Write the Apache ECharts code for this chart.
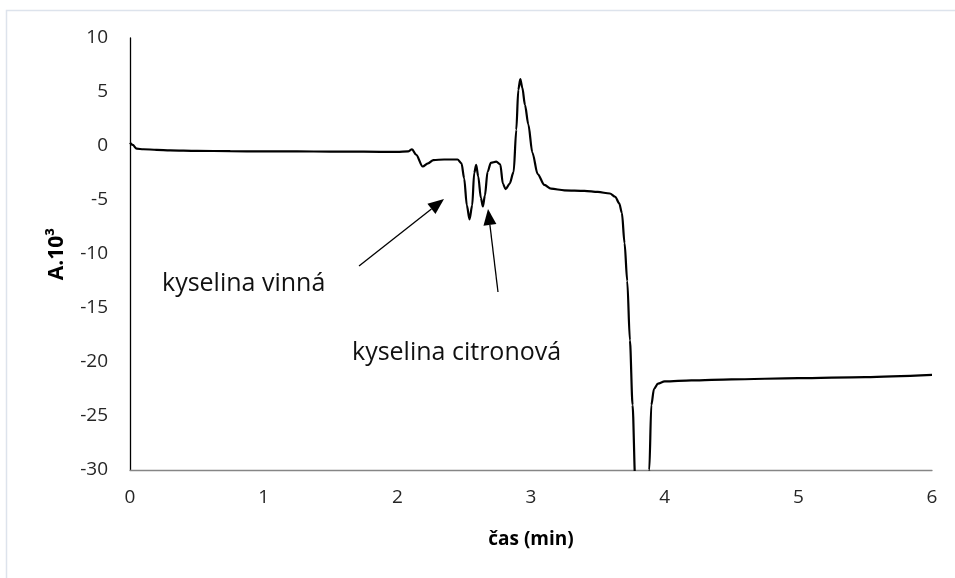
<!DOCTYPE html>
<html>
<head>
<meta charset="utf-8">
<script src="https://cdn.jsdelivr.net/npm/echarts@6/dist/echarts.min.js"></script>
<style>
  html, body { margin: 0; padding: 0; background: #fff; }
  #chart { width: 955px; height: 578px; }
</style>
</head>
<body>
<div id="chart"></div>
<script>
// time (min) and absorbance (A.10^3)
const times = [
  0, 0.02, 0.05, 0.1, 0.2, 0.3, 0.5, 0.75, 1.0, 1.25, 1.5, 1.75, 2.0,
  2.08, 2.11, 2.14, 2.19, 2.23, 2.27, 2.35, 2.45, 2.48, 2.5, 2.52, 2.54,
  2.56, 2.575, 2.59, 2.605, 2.625, 2.64, 2.655, 2.675, 2.7, 2.74, 2.77,
  2.79, 2.81, 2.84, 2.87, 2.89, 2.905, 2.92, 2.935, 2.955, 2.98, 3.01,
  3.05, 3.1, 3.15, 3.25, 3.4, 3.5, 3.59, 3.63, 3.66, 3.68, 3.7, 3.72,
  3.74, 3.76, 3.78, 3.8, 3.87, 3.885, 3.9, 3.92, 3.95, 4.0, 4.2, 4.5,
  5.0, 5.5, 6.0
];
const signal = [
  0.3, 0.1, -0.25, -0.3, -0.35, -0.4, -0.45, -0.48, -0.5, -0.5, -0.52, -0.52, -0.55,
  -0.5, -0.3, -0.8, -1.9, -1.6, -1.3, -1.25, -1.25, -1.6, -3.0, -5.5, -6.8,
  -5.5, -2.5, -1.75, -2.8, -4.8, -5.6, -4.6, -2.4, -1.55, -1.45, -1.7,
  -3.5, -4.0, -3.5, -2.4, 1.5, 5.2, 6.2, 5.4, 3.8, 2.0, -0.6,
  -2.6, -3.6, -3.95, -4.1, -4.15, -4.25, -4.4, -4.7, -5.3, -6.2, -9.0, -12.5,
  -18, -24, -31, -40, -40, -30, -24, -22.5, -22, -21.8, -21.7, -21.6,
  -21.5, -21.4, -21.2
];
const xTicks = [0, 1, 2, 3, 4, 5, 6];
const yTicks = [-30, -25, -20, -15, -10, -5, 0, 5, 10];

const points = times.map((t, i) => [t, signal[i]]);

function arrow(x1, y1, x2, y2) {
  const dx = x2 - x1, dy = y2 - y1;
  const len = Math.sqrt(dx * dx + dy * dy);
  const ux = dx / len, uy = dy / len;
  const hl = 16, hw = 6.5;
  const bx = x2 - ux * hl, by = y2 - uy * hl;
  return [
    { type: 'line', shape: { x1: x1, y1: y1, x2: bx, y2: by },
      style: { stroke: '#000', lineWidth: 1.3 } },
    { type: 'polygon',
      shape: { points: [[x2, y2], [bx - uy * hw, by + ux * hw], [bx + uy * hw, by - ux * hw]] },
      style: { fill: '#000' } }
  ];
}

const chart = echarts.init(document.getElementById('chart'), null, { renderer: 'canvas' });

const option = {
  animation: false,
  grid: { left: 130, right: 23, top: 38, bottom: 108 },
  xAxis: {
    type: 'value',
    min: xTicks[0],
    max: xTicks[xTicks.length - 1],
    interval: 1,
    name: 'čas (min)',
    nameLocation: 'middle',
    nameGap: 60,
    nameTextStyle: { fontFamily: 'Open Sans', fontSize: 19, fontWeight: 'bold', color: '#000' },
    axisLine: { onZero: false, lineStyle: { color: '#868686', width: 1.3 } },
    axisTick: { show: false },
    splitLine: { show: false },
    axisLabel: { fontFamily: 'Open Sans', fontSize: 19, color: '#262626', margin: 18 }
  },
  yAxis: {
    type: 'value',
    min: yTicks[0],
    max: yTicks[yTicks.length - 1],
    interval: 5,
    name: 'A.10³',
    nameLocation: 'middle',
    nameGap: 62,
    nameRotate: 90,
    nameTextStyle: { fontFamily: 'Open Sans', fontSize: 21, fontWeight: 'bold', color: '#000' },
    axisLine: { show: true, onZero: false, lineStyle: { color: '#000', width: 1.3 } },
    axisTick: { show: false },
    splitLine: { show: false },
    axisLabel: { fontFamily: 'Open Sans', fontSize: 19, color: '#262626', margin: 22 }
  },
  series: [
    {
      type: 'line',
      data: points,
      showSymbol: false,
      smooth: 0.3,
      smoothMonotone: 'x',
      clip: true,
      lineStyle: { color: '#000', width: 2.2 }
    }
  ],
  graphic: [
    { type: 'rect', shape: { x: 6.5, y: 10.5, width: 1000, height: 1000 },
      style: { fill: 'none', stroke: '#dde3ec', lineWidth: 1.5 }, z: -1 },
    { type: 'text', left: 162, top: 271,
      style: { text: 'kyselina vinná', font: '25px "Open Sans"', fill: '#111' } },
    { type: 'text', left: 352, top: 340,
      style: { text: 'kyselina citronová', font: '25px "Open Sans"', fill: '#111' } }
  ].concat(arrow(359, 266, 444, 199), arrow(498, 292, 488, 209))
};

chart.setOption(option);
window.addEventListener('resize', function () {
  chart.resize();
});
</script>
</body>
</html>
